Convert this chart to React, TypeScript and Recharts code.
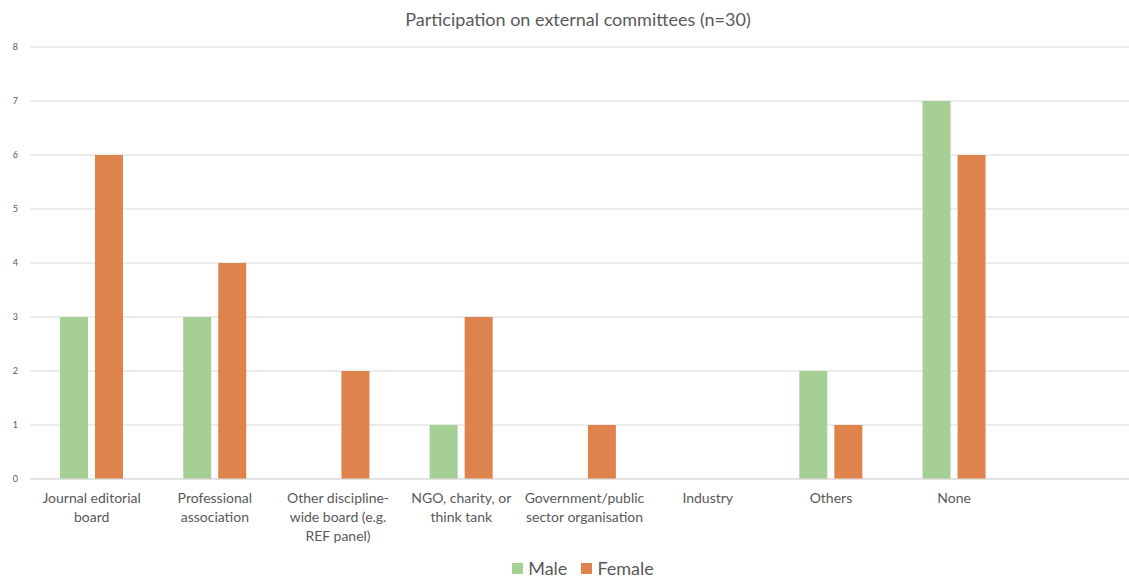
import React from "react";
import { BarChart, Bar, XAxis, YAxis, CartesianGrid } from "recharts";

const title = "Participation on external committees (n=30)";
const categories = [
  "Journal editorial board",
  "Professional association",
  "Other discipline-wide board (e.g. REF panel)",
  "NGO, charity, or think tank",
  "Government/public sector organisation",
  "Industry",
  "Others",
  "None",
  "",
];
const categoryLines: string[][] = [
  ["Journal editorial", "board"],
  ["Professional", "association"],
  ["Other discipline-", "wide board (e.g.", "REF panel)"],
  ["NGO, charity, or", "think tank"],
  ["Government/public", "sector organisation"],
  ["Industry"],
  ["Others"],
  ["None"],
  [],
];
const maleValues = [3, 3, 0, 1, 0, 0, 2, 7, null];
const femaleValues = [6, 4, 2, 3, 1, 0, 1, 6, null];
const yTicks = [0, 1, 2, 3, 4, 5, 6, 7, 8];
const seriesNames = ["Male", "Female"];
const seriesColors = ["#a6cf96", "#df834c"];

const data = categories.map((c, i) => ({
  name: c,
  idx: i,
  Male: maleValues[i],
  Female: femaleValues[i],
}));

const FONT = "Lato, 'Open Sans', sans-serif";
const TEXT = "#595959";

const XTick = (props: any) => {
  const { x, y, payload } = props;
  const lines = categoryLines[payload.index] || [];
  return (
    <text x={x} y={y} textAnchor="middle" fill={TEXT} fontSize={14} fontFamily={FONT}>
      {lines.map((l, i) => (
        <tspan key={i} x={x} y={y + 24 + i * 19}>
          {l}
        </tspan>
      ))}
    </text>
  );
};

export default function App() {
  return (
    <div
      style={{
        position: "absolute",
        left: 0,
        top: 0,
        width: 1129,
        height: 578,
        overflow: "hidden",
        background: "#fff",
        fontFamily: FONT,
      }}
    >
      <div
        style={{
          position: "absolute",
          top: 8,
          left: 0,
          width: 1156,
          textAlign: "center",
          fontSize: 18,
          color: TEXT,
        }}
      >
        {title}
      </div>
      <BarChart
        width={1139}
        height={578}
        data={data}
        margin={{ top: 47, right: 0, bottom: 0, left: 0 }}
        barSize={28}
        barGap={7}
      >
        <CartesianGrid horizontal vertical={false} stroke="#d9d9d9" />
        <XAxis
          dataKey="name"
          interval={0}
          height={99}
          tickLine={false}
          tickSize={0}
          tickMargin={0}
          axisLine={{ stroke: "#d9d9d9" }}
          tick={<XTick />}
        />
        <YAxis
          width={30}
          domain={[0, 8]}
          ticks={yTicks}
          axisLine={false}
          tickLine={false}
          tickSize={0}
          tickMargin={12}
          tick={{ fill: TEXT, fontSize: 9, fontFamily: FONT }}
        />
        {seriesNames.map((s, i) => (
          <Bar key={s} dataKey={s} fill={seriesColors[i]} isAnimationActive={false} />
        ))}
      </BarChart>
      <div
        style={{
          position: "absolute",
          top: 558,
          left: 0,
          width: 1166,
          display: "flex",
          justifyContent: "center",
          alignItems: "center",
          fontSize: 18,
          color: TEXT,
          lineHeight: "20px",
        }}
      >
        {seriesNames.map((s, i) => (
          <div key={s} style={{ display: "flex", alignItems: "center", marginRight: i === 0 ? 14 : 0 }}>
            <span
              style={{
                display: "inline-block",
                width: 11,
                height: 11,
                background: seriesColors[i],
                marginRight: 5,
              }}
            />
            <span>{s}</span>
          </div>
        ))}
      </div>
    </div>
  );
}
